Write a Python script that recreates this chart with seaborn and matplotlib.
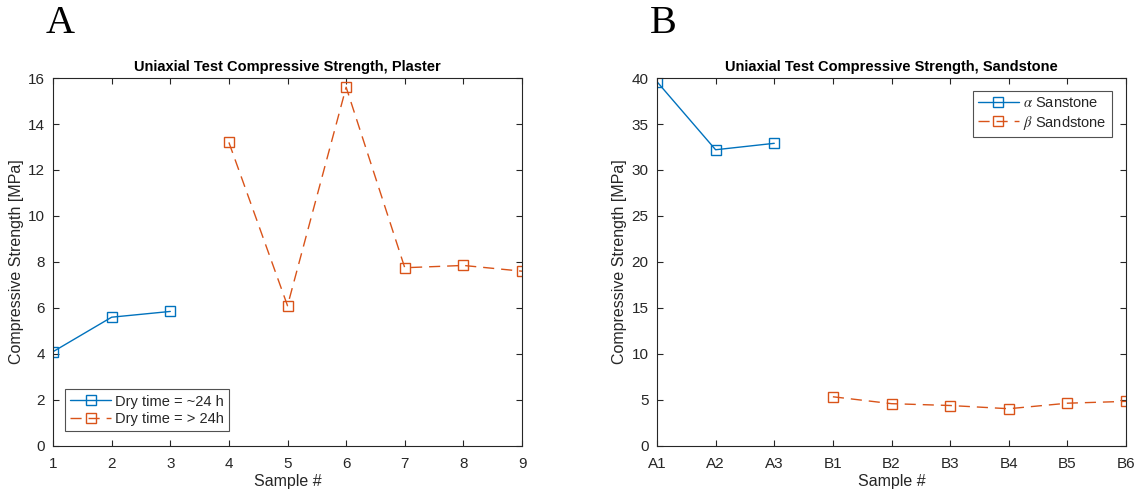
import numpy as np
import pandas as pd
import matplotlib
matplotlib.use("Agg")
import matplotlib.pyplot as plt
import seaborn as sns

# Plaster specimens
plaster_short_ids = [1, 2, 3]
plaster_short_vals = [4.1, 5.6, 5.85]
plaster_long_ids = [4, 5, 6, 7, 8, 9]
plaster_long_vals = [13.2, 6.1, 15.6, 7.75, 7.85, 7.6]

# Sandstone specimens
sand_alpha_ids = ["A1", "A2", "A3"]
sand_alpha_vals = [39.6, 32.2, 32.9]
sand_beta_ids = ["B1", "B2", "B3", "B4", "B5", "B6"]
sand_beta_vals = [5.35, 4.6, 4.4, 4.05, 4.65, 4.85]

plaster_labels = ["Dry time = ~24 h", "Dry time = > 24h"]
sand_labels = [r"$\alpha$ Sanstone", r"$\beta$ Sandstone"]

BLUE = "#0072BD"
ORANGE = "#D95319"
INK = "#262626"

sns.set_theme(style="ticks")
plt.rcParams["font.family"] = ["Liberation Sans", "DejaVu Sans"]
plt.rcParams["mathtext.fontset"] = "stix"

fig = plt.figure(figsize=(11.38, 4.94), dpi=100)
axA = fig.add_axes([0.0466, 0.0972, 0.4121, 0.7449])
axB = fig.add_axes([0.5773, 0.0972, 0.4122, 0.7449])

plaster = pd.concat([
    pd.DataFrame({"x": plaster_short_ids, "y": plaster_short_vals, "grp": plaster_labels[0]}),
    pd.DataFrame({"x": plaster_long_ids, "y": plaster_long_vals, "grp": plaster_labels[1]}),
])

sand_cats = sand_alpha_ids + sand_beta_ids
sand = pd.concat([
    pd.DataFrame({"x": [sand_cats.index(s) for s in sand_alpha_ids], "y": sand_alpha_vals, "grp": sand_labels[0]}),
    pd.DataFrame({"x": [sand_cats.index(s) for s in sand_beta_ids], "y": sand_beta_vals, "grp": sand_labels[1]}),
])

def draw(ax, df, labels):
    for lab, col, ls in zip(labels, [BLUE, ORANGE], ["-", (0, (8, 5))]):
        sub = df[df["grp"] == lab]
        sns.lineplot(data=sub, x="x", y="y", ax=ax, color=col, linestyle=ls,
                     linewidth=1.0, marker="s", markersize=7,
                     markerfacecolor="none", markeredgecolor=col,
                     markeredgewidth=1.0, label=lab, estimator=None, sort=False)

draw(axA, plaster, plaster_labels)
draw(axB, sand, sand_labels)

axA.set_xlim(1, 9)
axA.set_ylim(0, 16)
axA.set_xticks(range(1, 10))
axA.set_yticks(range(0, 17, 2))
axA.set_title("Uniaxial Test Compressive Strength, Plaster", fontsize=10.5,
              fontweight="bold", pad=5, color="black")

axB.set_xlim(0, len(sand_cats) - 1)
axB.set_ylim(0, 40)
axB.set_xticks(range(len(sand_cats)))
axB.set_xticklabels(sand_cats)
axB.set_yticks(range(0, 41, 5))
axB.set_title("Uniaxial Test Compressive Strength, Sandstone", fontsize=10.5,
              fontweight="bold", pad=5, color="black")

for ax in (axA, axB):
    ax.set_xlabel("Sample #", fontsize=11.5, color=INK, labelpad=2)
    ax.set_ylabel("Compressive Strength [MPa]", fontsize=11.5, color=INK, labelpad=3)
    ax.tick_params(direction="in", top=True, right=True, length=4, width=0.8,
                   labelsize=11, colors=INK)
    ax.tick_params(axis="x", pad=8)
    ax.tick_params(axis="y", pad=6)
    for sp in ax.spines.values():
        sp.set_visible(True)
        sp.set_color(INK)
        sp.set_linewidth(0.8)
    ax.grid(False)

legA = axA.legend(loc="lower left", fontsize=10.5, frameon=True, fancybox=False,
                  edgecolor=INK, handlelength=2.8, borderpad=0.35,
                  labelspacing=0.25, handletextpad=0.3,
                  bbox_to_anchor=(0.01, 0.02))
legB = axB.legend(loc="upper right", fontsize=10.5, frameon=True, fancybox=False,
                  edgecolor=INK, handlelength=2.8, borderpad=0.35,
                  labelspacing=0.25, handletextpad=0.3,
                  bbox_to_anchor=(0.985, 0.985))
for leg in (legA, legB):
    leg.get_frame().set_linewidth(0.8)

fig.text(0.040, 0.952, "A", fontsize=29, family="Liberation Serif", va="center", color="black")
fig.text(0.571, 0.952, "B", fontsize=29, family="Liberation Serif", va="center", color="black")

fig.savefig("out.png", dpi=100)
